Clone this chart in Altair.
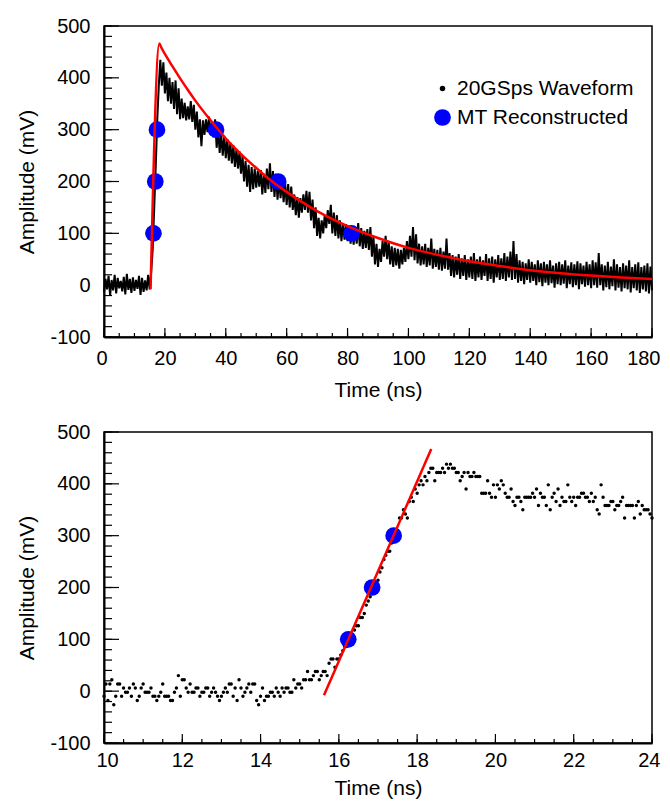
import altair as alt
import pandas as pd

FONT = "Liberation Sans"
WAVE_LABEL = "20GSps Waveform"
MT_LABEL = "MT Reconstructed"

# ---------------- top panel data (0-180 ns) ----------------
# envelope of the 20 GSps trace read per ns: low excursion at t, high excursion at t+0.5
wave_lo = [
    -14, -8, -20, -10, -16, -6, -12, -18, -9, -15,
    -11, -7, -19, -13, -10, -8, 70, 230, 385, 385,
    370, 355, 350, 340, 330, 320, 322, 318, 320, 315,
    300, 285, 268, 290, 295, 290, 285, 265, 255, 250,
    245, 240, 235, 228, 225, 215, 200, 190, 180, 185,
    188, 190, 175, 178, 185, 180, 170, 165, 168, 160,
    155, 150, 145, 135, 130, 140, 145, 140, 125, 110,
    95, 90, 100, 110, 118, 100, 95, 90, 85, 88,
    85, 80, 78, 80, 75, 70, 72, 68, 55, 40,
    35, 45, 55, 50, 40, 35, 38, 32, 40, 45,
    50, 55, 48, 42, 38, 40, 35, 38, 32, 35,
    30, 28, 32, 30, 18, 15, 20, 12, 18, 10,
    15, 12, 8, 15, 10, 18, 8, 12, 5, 15,
    10, 12, 8, 15, 10, 12, 5, 8, 2, 10,
    5, 8, 0, 6, -2, 5, 0, 4, -5, 2,
    0, 3, -6, 2, -4, 0, -8, 2, -3, 0,
    -6, 0, -5, 0, -10, -4, -8, -2, -10, -5,
    -12, -6, -8, -14, -6, -10, -15, -8, -12, -16,
    -10,
]
wave_hi = [
    12, 18, 10, 20, 14, 8, 16, 22, 12, 15,
    10, 18, 14, 9, 20, 25, 150, 320, 435, 430,
    410, 400, 392, 395, 380, 360, 352, 345, 355, 348,
    335, 320, 318, 320, 325, 315, 320, 300, 292, 288,
    282, 275, 270, 262, 258, 250, 240, 232, 228, 225,
    220, 222, 215, 225, 235, 220, 215, 205, 202, 198,
    195, 190, 175, 170, 168, 175, 182, 180, 165, 150,
    130, 125, 135, 145, 155, 140, 135, 125, 120, 118,
    115, 112, 110, 120, 110, 105, 108, 112, 95, 80,
    70, 85, 95, 85, 75, 72, 70, 68, 72, 85,
    95, 112, 98, 80, 75, 80, 72, 90, 70, 68,
    72, 65, 90, 62, 58, 55, 60, 52, 58, 50,
    55, 62, 50, 55, 48, 60, 52, 55, 50, 58,
    52, 62, 55, 65, 85, 60, 48, 45, 42, 50,
    45, 40, 48, 42, 45, 40, 48, 38, 42, 45,
    40, 48, 38, 44, 40, 46, 42, 38, 45, 40,
    48, 44, 62, 40, 38, 45, 36, 50, 40, 35,
    42, 38, 48, 35, 40, 44, 35, 38, 42, 36,
]

# red fitted pulse (rise + exponential-looking tail)
fit_t = [15.3, 18.2, 18.7, 20, 22.5, 25, 27.5, 30, 35, 40, 45, 50, 55, 60,
         70, 80, 90, 100, 110, 120, 130, 140, 150, 160, 170, 180]
fit_v = [-8, 466, 460, 446, 422, 399, 377, 356, 318, 283, 253, 226, 201, 180,
         143, 114, 91, 72, 58, 46, 37, 29, 23, 18.5, 15, 12]

# multi-threshold reconstructed points
mt_t = [16.24, 16.85, 17.40, 36.8, 57.2, 81.3]
mt_v = [100, 200, 300, 300, 200, 100]

# ---------------- bottom panel data (10-24 ns) ----------------
zoom_start = 10.0
zoom_step = 0.05
zoom_samples = [
    -10, 14, -18, 14, 22, -26, -10, 14, 14, -10, 6, -2, -2, 6, -10, 14, 6, -18, -10, 6,
    14, -2, -2, -2, 6, -10, -10, -18, -10, -2, 14, -10, -10, -10, -18, -18, -2, 6, 30, -10,
    22, 22, 6, -2, 14, -2, -2, 6, 6, -10, -2, -2, 6, 6, -10, -2, 6, -2, -10, -18,
    -10, -2, 6, -2, 14, 14, -10, 6, -18, 22, 6, -10, -2, 6, 14, -2, 14, 14, -18, -26,
    -10, 6, -18, -10, -10, -2, -2, -10, 6, -2, -10, 6, -2, 6, 6, -2, -2, 22, 6, 14,
    14, 6, 22, 22, 38, 22, 22, 30, 38, 38, 22, 30, 38, 38, 30, 54, 62, 62, 46, 62,
    62, 70, 78, 86, 86, 94, 102, 110, 118, 126, 126, 142, 142, 150, 166, 174, 182, 190, 190, 206,
    214, 230, 238, 254, 262, 270, 270, 286, 294, 302, 310, 334, 334, 350, 342, 334, 366, 374, 366, 390,
    382, 398, 406, 398, 414, 406, 422, 430, 430, 406, 422, 422, 422, 430, 422, 438, 430, 438, 430, 430,
    422, 422, 406, 414, 422, 390, 422, 414, 414, 422, 414, 414, 414, 382, 382, 382, 406, 382, 374, 398,
    374, 398, 390, 406, 398, 382, 374, 374, 390, 366, 358, 374, 374, 366, 350, 374, 374, 374, 374, 382,
    374, 390, 358, 382, 374, 374, 358, 398, 350, 374, 382, 366, 390, 358, 374, 366, 366, 398, 374, 366,
    374, 358, 374, 374, 382, 382, 374, 374, 366, 382, 366, 374, 350, 342, 398, 374, 358, 358, 358, 366,
    366, 350, 358, 358, 366, 374, 334, 358, 358, 358, 358, 334, 358, 366, 342, 358, 350, 350, 350, 342,
    334,
]
rise_t = [15.62, 18.36]
rise_v = [-8, 467]

# axis ticks
y_major = [-100, 0, 100, 200, 300, 400, 500]
y_minor = list(range(-100, 501, 20))
top_x_major = list(range(0, 181, 20))
top_x_minor = list(range(0, 181, 5))
bot_x_major = [10, 12, 14, 16, 18, 20, 22, 24]
bot_x_minor = [10 + 0.5 * i for i in range(29)]

W, H = 548, 311

# ---------------- tables ----------------
wave_rows = []
for i, lo in enumerate(wave_lo):
    wave_rows.append({"t": float(i), "v": lo})
    if i < len(wave_hi):
        wave_rows.append({"t": i + 0.5, "v": wave_hi[i]})
wave_df = pd.DataFrame(wave_rows)
fit_df = pd.DataFrame({"t": fit_t, "v": fit_v})
mt_df = pd.DataFrame({"t": mt_t, "v": mt_v, "series": MT_LABEL})
zoom_df = pd.DataFrame({"t": [zoom_start + zoom_step * i for i in range(len(zoom_samples))],
                        "v": zoom_samples})
rise_df = pd.DataFrame({"t": rise_t, "v": rise_v})
mt_zoom_df = mt_df.iloc[:3]


def axis_x(values, label_pad, title_pad):
    return alt.Axis(values=values, title="Time (ns)", ticks=False, tickSize=0, grid=False,
                    labelPadding=label_pad, titlePadding=title_pad, labelExpr="toString(datum.value)",
                    labelFlush=True, labelFlushOffset=8, domainColor="black", domainWidth=2)


def axis_y():
    return alt.Axis(values=y_major, title="Amplitude (mV)", ticks=False, tickSize=0, grid=False,
                    labelPadding=14, titlePadding=12, labelExpr="toString(datum.value)",
                    labelFlush=False, domainColor="black", domainWidth=2)


def tick_layers(xs, ys, ax_x, ax_y, x_major, x_minor):
    layers = []
    for vals, length in ((x_minor, 4), (x_major, 9)):
        layers.append(alt.Chart(pd.DataFrame({"p": vals})).mark_rule(color="black", strokeWidth=1.2).encode(
            x=alt.X("p:Q", scale=xs, axis=ax_x), y=alt.value(H), y2=alt.value(H - length)))
    for vals, length in ((y_minor, 8), (y_major, 15)):
        layers.append(alt.Chart(pd.DataFrame({"p": vals})).mark_rule(color="black", strokeWidth=1.2).encode(
            y=alt.Y("p:Q", scale=ys, axis=ax_y), x=alt.value(0), x2=alt.value(length)))
    return layers


ys = alt.Scale(domain=[-100, 500], nice=False, zero=False)
AY = axis_y()

# ---------------- top panel ----------------
xs_top = alt.Scale(domain=[0, 180], nice=False, zero=False)
AX_TOP = axis_x(top_x_major, 11, 11)

legend = alt.Legend(title=None, orient="none", legendX=328, legendY=52, labelFont=FONT,
                    labelFontSize=21, labelColor="black", rowPadding=7, labelOffset=4,
                    labelLimit=400, padding=0, symbolOpacity=1, symbolStrokeWidth=0,
                    symbolType="circle")

top_wave = alt.Chart(wave_df).mark_line(color="black", strokeWidth=2).encode(
    x=alt.X("t:Q", scale=xs_top, axis=AX_TOP),
    y=alt.Y("v:Q", scale=ys, axis=AY),
)
top_mt = alt.Chart(mt_df).mark_circle(opacity=1).encode(
    x=alt.X("t:Q", scale=xs_top, axis=AX_TOP),
    y=alt.Y("v:Q", scale=ys, axis=AY),
    color=alt.Color("series:O", scale=alt.Scale(domain=[WAVE_LABEL, MT_LABEL], range=["black", "#0000ff"]),
                    legend=legend),
    size=alt.Size("series:O", scale=alt.Scale(domain=[WAVE_LABEL, MT_LABEL], range=[30, 280]),
                  legend=legend),
)
top_fit = alt.Chart(fit_df).mark_line(color="#ff0000", strokeWidth=2.5, interpolate="monotone").encode(
    x=alt.X("t:Q", scale=xs_top, axis=AX_TOP),
    y=alt.Y("v:Q", scale=ys, axis=AY),
)
top = alt.layer(top_wave, top_mt, top_fit,
                *tick_layers(xs_top, ys, AX_TOP, AY, top_x_major, top_x_minor)).properties(width=W, height=H)

# ---------------- bottom panel ----------------
xs_bot = alt.Scale(domain=[10, 24], nice=False, zero=False)
AX_BOT = axis_x(bot_x_major, 7, 7)
bot_dots = alt.Chart(zoom_df).mark_circle(color="black", size=12, opacity=1).encode(
    x=alt.X("t:Q", scale=xs_bot, axis=AX_BOT),
    y=alt.Y("v:Q", scale=ys, axis=AY),
)
bot_mt = alt.Chart(mt_zoom_df).mark_circle(color="#0000ff", size=280, opacity=1).encode(
    x=alt.X("t:Q", scale=xs_bot, axis=AX_BOT),
    y=alt.Y("v:Q", scale=ys, axis=AY),
)
bot_rise = alt.Chart(rise_df).mark_line(color="#ff0000", strokeWidth=2.5).encode(
    x=alt.X("t:Q", scale=xs_bot, axis=AX_BOT),
    y=alt.Y("v:Q", scale=ys, axis=AY),
)
bottom = alt.layer(bot_dots, bot_mt, bot_rise,
                   *tick_layers(xs_bot, ys, AX_BOT, AY, bot_x_major, bot_x_minor)).properties(width=W, height=H)

chart = alt.vconcat(top, bottom, spacing=20).properties(
    padding={"left": 8, "top": 7, "right": 0, "bottom": 0}
).configure_view(stroke="black", strokeWidth=1.5).configure_axis(
    labelFont=FONT, labelFontSize=20, labelColor="black",
    titleFont=FONT, titleFontSize=21, titleColor="black", titleFontWeight="normal",
).configure_legend(labelFont=FONT)

chart.save("out.html", embed_options={"renderer": "svg", "actions": False})
